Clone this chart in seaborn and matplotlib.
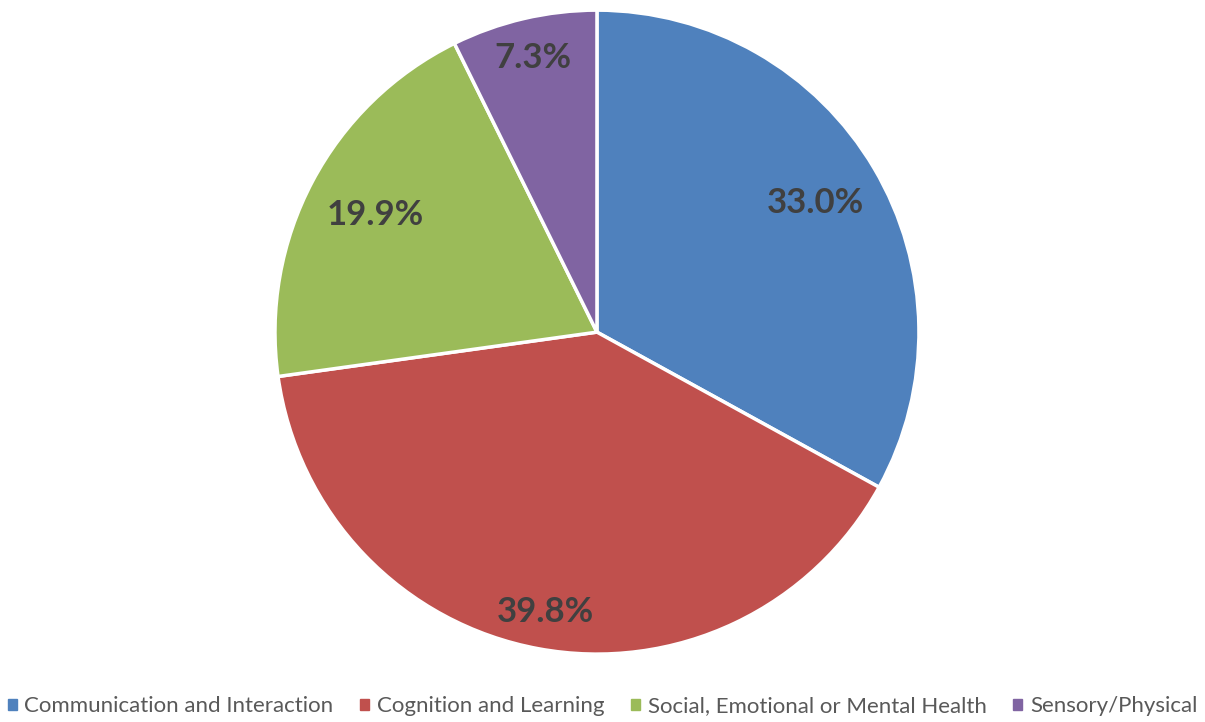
import numpy as np
import matplotlib
matplotlib.use("Agg")
import matplotlib.pyplot as plt
import seaborn as sns

categories = ["Communication and Interaction", "Cognition and Learning",
              "Social, Emotional or Mental Health", "Sensory/Physical"]
shares = [33.0, 39.8, 19.9, 7.3]
colors = ["#4F81BD", "#C0504D", "#9BBB59", "#8064A2"]
# radial position of each percentage label, as a fraction of the radius
label_radius = [0.79, 0.885, 0.78, 0.875]

sns.set_theme(style="white")
plt.rcParams["font.family"] = ["Lato", "DejaVu Sans"]

fig = plt.figure(figsize=(12.05, 7.22), dpi=100)
ax = fig.add_axes([0.2282, 0.094, 0.5344, 0.892])

wedges, _ = ax.pie(shares, colors=colors, startangle=90, counterclock=False,
                   wedgeprops=dict(edgecolor="white", linewidth=2.5))
ax.set_aspect("equal")
ax.set_xlim(-1, 1)
ax.set_ylim(-1, 1)

for w, v, r in zip(wedges, shares, label_radius):
    ang = np.deg2rad((w.theta1 + w.theta2) / 2)
    ax.text(r * np.cos(ang), r * np.sin(ang), f"{v:.1f}%",
            ha="center", va="center", fontsize=25, fontweight="bold",
            color="#404040")

handles = [plt.Rectangle((0, 0), 1, 1, color=c) for c in colors]
fig.legend(handles, categories, loc="center", bbox_to_anchor=(0.5, 0.022),
           ncol=4, frameon=False, fontsize=16, handlelength=0.4,
           handleheight=0.4, handletextpad=0.35, columnspacing=1.2,
           labelcolor="#595959")

fig.savefig("out.png", dpi=100)
